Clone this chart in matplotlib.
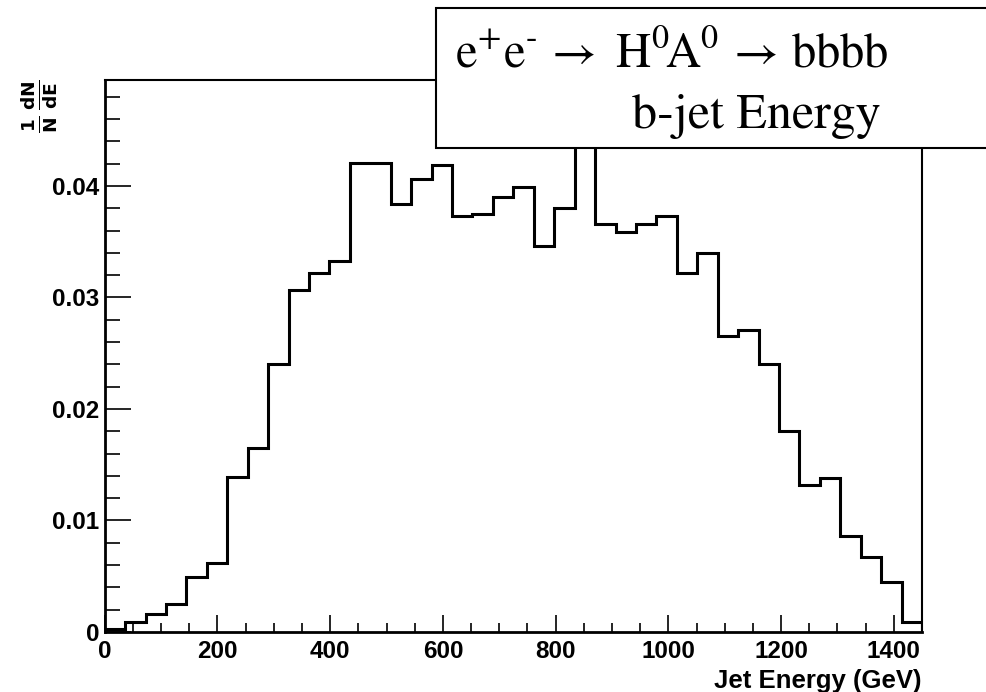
import numpy as np
import matplotlib
matplotlib.use("Agg")
import matplotlib.pyplot as plt
from matplotlib.patches import Rectangle

# ---- data ----
x_min, x_max, n_bins = 0, 1450, 40
values = [0.0003, 0.0009, 0.0016, 0.0025, 0.0049, 0.0062, 0.0139, 0.0165, 0.0240, 0.0307,
          0.0322, 0.0333, 0.0421, 0.0421, 0.0384, 0.0406, 0.0419, 0.0373, 0.0375, 0.0390,
          0.0399, 0.0346, 0.0380, 0.0470, 0.0366, 0.0359, 0.0366, 0.0373, 0.0322, 0.0340,
          0.0265, 0.0271, 0.0240, 0.0180, 0.0132, 0.0138, 0.0086, 0.0067, 0.0045, 0.0009]
x_ticks = [0, 200, 400, 600, 800, 1000, 1200, 1400]
x_ticklabels = ["0", "200", "400", "600", "800", "1000", "1200", "1400"]
y_ticks = [0, 0.01, 0.02, 0.03, 0.04]
y_ticklabels = ["0", "0.01", "0.02", "0.03", "0.04"]
y_max = 0.0495
x_label = "Jet Energy (GeV)"
y_label = r"$\frac{\mathbf{1}}{\mathbf{N}}\,\frac{\mathbf{dN}}{\mathbf{dE}}$"
title_line1 = r"$\mathrm{e^{+}e^{\text{-}}\,\rightarrow\ H^{0}\!A^{0}\,\rightarrow\,bbbb}$"
title_line2 = "b-jet Energy"

edges = np.linspace(x_min, x_max, n_bins + 1)

W, H = 987, 692
fig = plt.figure(figsize=(W / 100, H / 100), dpi=100)
ax = fig.add_axes([104.7 / W, 1 - 632 / H, (922 - 104.7) / W, (632 - 80) / H])

ax.stairs(values, edges, baseline=0, color="black", linewidth=2.2, zorder=3)

ax.set_xlim(x_min, x_max)
ax.set_ylim(0, y_max)

sans = ["Liberation Sans", "DejaVu Sans"]
ax.set_xticks(x_ticks)
ax.set_xticklabels(x_ticklabels, fontfamily=sans, fontweight="bold", fontsize=17.5)
ax.set_yticks(y_ticks)
ax.set_yticklabels(y_ticklabels, fontfamily=sans, fontweight="bold", fontsize=17.5)
ax.set_xticks(np.arange(0, 1451, 50), minor=True)
ax.set_yticks(np.arange(0, 0.0495, 0.002), minor=True)

ax.tick_params(axis="x", which="major", direction="in", length=12, width=1.2, pad=6)
ax.tick_params(axis="x", which="minor", direction="in", length=6.5, width=1.2)
ax.tick_params(axis="y", which="major", direction="in", length=19, width=1.2, pad=4)
ax.tick_params(axis="y", which="minor", direction="in", length=11, width=1.2)

for side in ["left", "bottom"]:
    ax.spines[side].set_linewidth(2.0)
for side in ["top", "right"]:
    ax.spines[side].set_linewidth(1.5)

fig.text(922 / W, 1 - 688 / H, x_label, ha="right", va="baseline",
         fontfamily=sans, fontweight="bold", fontsize=18.5)
fig.text(40 / W, 1 - 106 / H, y_label, rotation=90, ha="center", va="center",
         fontsize=19, math_fontfamily="dejavusans")

# title box (white box overlapping the top right)
box = Rectangle((436 / W, 1 - 148 / H), 1.0, (148 - 8) / H, transform=fig.transFigure,
                facecolor="white", edgecolor="black", linewidth=1.5, zorder=10)
fig.patches.append(box)
fig.text(455 / W, 1 - 68 / H, title_line1, ha="left", va="baseline", fontsize=35,
         math_fontfamily="stix", zorder=11)
fig.text(632 / W, 1 - 128 / H, title_line2, ha="left", va="baseline", fontsize=36,
         fontfamily="STIXGeneral", zorder=11)

fig.savefig("out.png", dpi=100)
